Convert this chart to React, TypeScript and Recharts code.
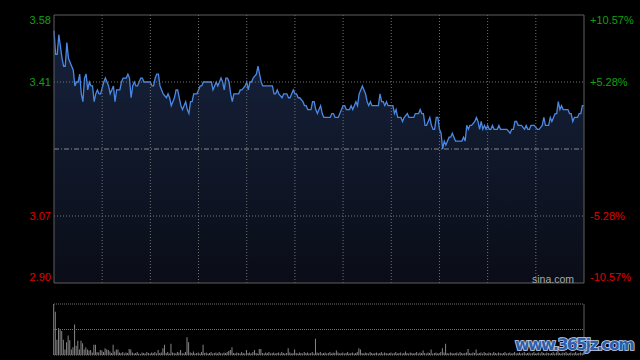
import { AreaChart, Area, Line, BarChart, Bar, XAxis, YAxis, ReferenceLine } from "recharts"

const PREV_CLOSE = 3.24

// minute index of the trading day (0..330, HK session) and last price at that minute
const minutes = [
  0, 1, 2, 3, 5, 6, 7, 8, 9, 11, 12, 13, 14, 15, 16, 17, 18, 19, 20, 21, 22, 23, 24, 25, 26, 27, 28, 29, 31, 32, 33, 34, 35, 37, 38, 39, 41, 42, 43, 45, 46, 47, 48, 49, 50, 51, 52, 53,
  54, 55, 56, 57, 58, 60, 61, 62, 63, 64, 65, 66, 67, 68, 70, 71, 72, 73, 74, 75, 76, 77, 78, 79, 80, 82, 83, 84, 85, 86, 87, 88, 89, 90, 91, 92, 93, 95, 97, 98, 99, 100, 101, 102, 103, 104, 105, 106, 107, 108, 109,
  110, 111, 112, 113, 115, 116, 117, 119, 120, 121, 122, 123, 124, 126, 127, 128, 129, 130, 132, 134, 136, 137, 138, 139, 140, 142, 143, 145, 146, 147, 148, 149, 150, 151, 152, 153, 155, 156, 157, 158, 160, 161, 162, 163, 164, 165,
  166, 167, 168, 170, 172, 173, 174, 175, 177, 178, 179, 180, 181, 182, 183, 184, 185, 186, 187, 188, 189, 190, 191, 192, 193, 194, 195, 196, 197, 198, 200, 202, 203, 204, 205, 206, 207, 208, 209, 211, 212, 213, 214, 215, 216, 217, 218, 220, 221,
  222, 224, 225, 226, 227, 228, 229, 230, 231, 232, 233, 234, 235, 236, 237, 238, 239, 240, 241, 242, 243, 244, 245, 246, 247, 248, 249, 250, 251, 253, 254, 255, 256, 257, 258, 259, 260, 262, 263, 264, 265, 266, 267, 268, 269, 270, 271, 272, 273, 274, 276, 277,
  278, 280, 282, 284, 285, 286, 287, 288, 289, 291, 293, 294, 295, 296, 297, 299, 301, 302, 304, 305, 306, 307, 308, 309, 310, 311, 312, 313, 314, 315, 316, 317, 318, 319, 320, 321, 322, 323, 324, 326, 327, 328, 329, 330,
]

const prices = [
  3.54, 3.48, 3.48, 3.53, 3.47, 3.45, 3.45, 3.51, 3.47, 3.45, 3.44, 3.4, 3.41, 3.41, 3.43, 3.38, 3.36, 3.42, 3.43, 3.39, 3.41, 3.4, 3.4, 3.36, 3.38, 3.39, 3.38, 3.38, 3.41, 3.42, 3.41, 3.4, 3.38, 3.4, 3.36, 3.39, 3.39, 3.41, 3.42, 3.42, 3.43, 3.42, 3.37, 3.4, 3.41, 3.4, 3.4, 3.41,
  3.42, 3.42, 3.41, 3.41, 3.41, 3.41, 3.4, 3.4, 3.42, 3.43, 3.43, 3.4, 3.39, 3.38, 3.37, 3.38, 3.37, 3.35, 3.36, 3.37, 3.39, 3.39, 3.37, 3.35, 3.34, 3.36, 3.34, 3.33, 3.36, 3.36, 3.38, 3.38, 3.38, 3.39, 3.4, 3.4, 3.41, 3.41, 3.41, 3.41, 3.39, 3.4, 3.41, 3.4, 3.41, 3.42, 3.41, 3.39, 3.42, 3.42, 3.41,
  3.38, 3.36, 3.38, 3.38, 3.38, 3.39, 3.39, 3.4, 3.41, 3.39, 3.41, 3.41, 3.42, 3.43, 3.45, 3.43, 3.41, 3.4, 3.4, 3.4, 3.4, 3.38, 3.38, 3.39, 3.38, 3.37, 3.38, 3.38, 3.37, 3.37, 3.38, 3.39, 3.38, 3.38, 3.37, 3.37, 3.36, 3.35, 3.35, 3.34, 3.34, 3.36, 3.36, 3.34, 3.33, 3.34,
  3.35, 3.33, 3.32, 3.32, 3.32, 3.33, 3.33, 3.32, 3.32, 3.33, 3.34, 3.35, 3.35, 3.34, 3.34, 3.34, 3.35, 3.34, 3.35, 3.36, 3.35, 3.38, 3.39, 3.4, 3.39, 3.38, 3.36, 3.35, 3.36, 3.35, 3.35, 3.35, 3.38, 3.36, 3.36, 3.35, 3.36, 3.35, 3.35, 3.35, 3.33, 3.34, 3.32, 3.32, 3.32, 3.31, 3.32, 3.33, 3.32,
  3.32, 3.32, 3.33, 3.33, 3.33, 3.34, 3.33, 3.33, 3.3, 3.3, 3.31, 3.32, 3.3, 3.29, 3.29, 3.32, 3.32, 3.29, 3.28, 3.24, 3.26, 3.25, 3.26, 3.27, 3.27, 3.28, 3.27, 3.26, 3.26, 3.26, 3.26, 3.27, 3.26, 3.3, 3.29, 3.3, 3.3, 3.31, 3.32, 3.31, 3.29, 3.31, 3.29, 3.3, 3.29, 3.3, 3.29, 3.29, 3.3, 3.29, 3.29, 3.3,
  3.29, 3.29, 3.29, 3.28, 3.29, 3.29, 3.31, 3.31, 3.3, 3.3, 3.29, 3.3, 3.29, 3.29, 3.3, 3.3, 3.29, 3.29, 3.3, 3.32, 3.3, 3.3, 3.3, 3.32, 3.31, 3.32, 3.33, 3.33, 3.36, 3.34, 3.35, 3.34, 3.34, 3.34, 3.34, 3.33, 3.33, 3.31, 3.32, 3.32, 3.33, 3.33, 3.35, 3.35,
]

// per-minute volume, relative to the opening minute
const volumes = [
  100, 85, 30, 53, 51, 47, 30, 11, 25, 38,
  29, 11, 15, 60, 18, 28, 11, 28, 23, 11,
  15, 11, 9, 10, 5, 20, 20, 6, 5, 10,
  9, 6, 13, 11, 10, 7, 4, 20, 7, 11,
  11, 5, 4, 6, 3, 5, 4, 12, 11, 5,
  3, 4, 6, 3, 2, 5, 4, 3, 6, 4,
  3, 5, 4, 6, 3, 10, 4, 5, 13, 20,
  4, 6, 3, 22, 5, 4, 3, 6, 5, 10,
  4, 3, 6, 35, 25, 5, 4, 7, 3, 4,
  5, 3, 6, 20, 4, 5, 3, 4, 6, 3,
  4, 5, 3, 6, 4, 3, 5, 4, 6, 8,
  10, 15, 4, 3, 5, 4, 3, 6, 4, 3,
  10, 4, 5, 3, 6, 10, 4, 3, 12, 12,
  4, 3, 5, 4, 6, 3, 4, 5, 3, 4,
  5, 3, 6, 4, 3, 4, 13, 5, 3, 4,
  11, 4, 3, 5, 4, 3, 6, 4, 5, 3,
  4, 6, 3, 32, 5, 4, 6, 3, 4, 5,
  3, 4, 6, 3, 5, 4, 9, 5, 3, 4,
  5, 3, 4, 6, 3, 4, 5, 3, 4, 6,
  13, 11, 4, 3, 5, 4, 3, 6, 4, 3,
  4, 5, 3, 4, 6, 3, 5, 4, 3, 4,
  5, 3, 4, 6, 3, 4, 5, 3, 4, 7,
  4, 3, 5, 4, 3, 4, 6, 3, 5, 4,
  9, 4, 3, 5, 4, 11, 3, 4, 5, 3,
  4, 6, 13, 5, 22, 4, 3, 5, 4, 3,
  4, 5, 3, 6, 4, 3, 4, 5, 12, 4,
  3, 5, 4, 11, 3, 4, 5, 3, 6, 4,
  3, 5, 4, 3, 6, 4, 3, 5, 4, 3,
  4, 6, 3, 4, 5, 3, 4, 6, 3, 4,
  5, 3, 4, 6, 3, 4, 5, 3, 4, 6,
  3, 4, 5, 3, 6, 4, 3, 5, 4, 3,
  4, 6, 3, 5, 8, 4, 3, 5, 4, 6,
  3, 4, 5, 3, 4, 6, 3, 4, 5, 4,
  6,
]

const priceTicks = [2.9, 3.07, 3.41, 3.58]
const pctTicks = [-10.57, -5.28, 5.28, 10.57]
const halfHours = [30, 60, 90, 120, 150, 180, 210, 240, 270, 300]

const GREEN = "#10a010"
const RED = "#e00000"
const BORDER = "#5e5e5e"
const DOTS = "#737373"

const priceData = minutes.map((t, i) => ({
  t,
  p: prices[i],
  pct: (prices[i] / PREV_CLOSE - 1) * 100,
}))
const volumeData = volumes.map((v, i) => ({ t: i, v }))

function tickShift(value: number, min: number, max: number) {
  if (value === max) return 9
  if (value === min) return -2
  return 4
}

function PriceTick({ x, y, payload }: any) {
  const v = payload.value
  return (
    <text x={x} y={y + tickShift(v, 2.9, 3.58)} textAnchor="end" fill={v > PREV_CLOSE ? GREEN : RED} fontSize={11}>
      {v.toFixed(2)}
    </text>
  )
}

function PctTick({ x, y, payload }: any) {
  const v = payload.value
  return (
    <text x={x} y={y + tickShift(v, -10.57, 10.57)} textAnchor="start" fill={v > 0 ? GREEN : RED} fontSize={11}>
      {(v > 0 ? "+" : "") + v.toFixed(2) + "%"}
    </text>
  )
}

export default function App() {
  return (
    <div
      style={{
        position: "absolute",
        left: 0,
        top: 0,
        width: 640,
        height: 360,
        background: "#000",
        overflow: "hidden",
        fontFamily: '"Liberation Sans", Arial, sans-serif',
      }}
    >
      <div style={{ position: "absolute", left: 0, top: 0 }}>
        <AreaChart width={640} height={290} data={priceData} margin={{ top: 15, right: 0, bottom: 7, left: 0 }}>
          <defs>
            <linearGradient id="priceFill" x1="0" y1="0" x2="0" y2="1">
              <stop offset="0%" stopColor="#16223c" />
              <stop offset="100%" stopColor="#0a0d17" />
            </linearGradient>
          </defs>
          <XAxis type="number" dataKey="t" domain={[0, 330]} hide />
          <YAxis
            yAxisId="price"
            domain={[2.9, 3.58]}
            ticks={priceTicks}
            width={54}
            axisLine={false}
            tickLine={false}
            tickSize={0}
            tickMargin={3}
            tick={<PriceTick />}
            interval={0}
          />
          <YAxis
            yAxisId="pct"
            orientation="right"
            type="number"
            domain={[-10.57, 10.57]}
            ticks={pctTicks}
            width={56}
            axisLine={false}
            tickLine={false}
            tickSize={0}
            tickMargin={6}
            tick={<PctTick />}
            interval={0}
          />
          <Area
            yAxisId="price"
            type="linear"
            dataKey="p"
            stroke="#4a88e6"
            strokeWidth={1.3}
            fill="url(#priceFill)"
            fillOpacity={1}
            baseValue="dataMin"
            dot={false}
            activeDot={false}
            isAnimationActive={false}
          />
          <Line
            yAxisId="pct"
            type="linear"
            dataKey="pct"
            stroke="none"
            dot={false}
            activeDot={false}
            isAnimationActive={false}
          />
          {halfHours.map((t) => (
            <ReferenceLine key={t} yAxisId="price" x={t} stroke={DOTS} strokeDasharray="1 2" />
          ))}
          <ReferenceLine yAxisId="price" y={3.41} stroke={DOTS} strokeDasharray="1 2" />
          <ReferenceLine yAxisId="price" y={3.07} stroke={DOTS} strokeDasharray="1 2" />
          <ReferenceLine yAxisId="price" y={PREV_CLOSE} stroke="#8a8a8a" strokeDasharray="5 2 1 2" />
          <ReferenceLine yAxisId="price" y={3.58} stroke={BORDER} />
          <ReferenceLine yAxisId="price" y={2.9} stroke={BORDER} />
          <ReferenceLine yAxisId="price" x={0} stroke={BORDER} />
          <ReferenceLine yAxisId="price" x={330} stroke={BORDER} />
        </AreaChart>
      </div>

      <div
        style={{
          position: "absolute",
          left: 532,
          top: 273,
          fontSize: 10.5,
          lineHeight: "12px",
          color: "#a8a8a8",
        }}
      >
        sina.com
      </div>

      <div style={{ position: "absolute", left: 0, top: 300 }}>
        <BarChart width={640} height={60} data={volumeData} margin={{ top: 4, right: 56, bottom: 5, left: 54 }}>
          <XAxis type="number" dataKey="t" domain={[0, 330]} hide />
          <YAxis domain={[0, 100]} hide />
          <ReferenceLine y={100} stroke={DOTS} strokeDasharray="1 1" />
          <ReferenceLine y={50} stroke={DOTS} strokeDasharray="1 1" />
          <ReferenceLine y={0} stroke={DOTS} strokeDasharray="1 1" />
          <ReferenceLine x={330} stroke={BORDER} />
          <Bar dataKey="v" fill="#858585" barSize={1} isAnimationActive={false} />
        </BarChart>
      </div>

      <svg width={640} height={360} style={{ position: "absolute", left: 0, top: 0, pointerEvents: "none" }}>
        <text
          x={515}
          y={350}
          fontSize={16}
          fontWeight="bold"
          fontFamily='"DejaVu Sans", Arial, sans-serif'
          fill="#2f5ea8"
          stroke="#c4d2ec"
          strokeWidth={1.6}
          paintOrder="stroke"
          textLength={120}
        >
          www.365jz.com
        </text>
      </svg>
    </div>
  )
}
